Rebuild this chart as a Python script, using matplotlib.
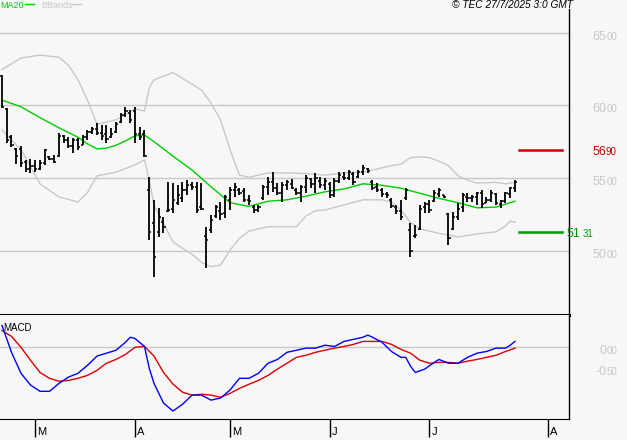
import matplotlib
matplotlib.use("Agg")
import matplotlib.pyplot as plt
import numpy as np

plt.rcParams["font.family"] = ["Liberation Sans", "DejaVu Sans"]

# ── Data ──────────────────────────────────────────────────────────────────────

# daily OHLC bars, one per trading day (index 0 = first bar)
bar_open = [
    62.00, 59.75, 57.80, 57.00, 57.00, 56.10, 55.60, 55.80, 55.60, 56.00,
    56.45, 56.30, 56.50, 57.90, 57.60, 57.20, 57.60, 57.30, 57.80, 58.15,
    58.40, 58.10, 58.00, 57.80, 58.15, 58.85, 59.30, 59.50, 59.60, 58.00,
    58.00, 54.20, 51.90, 51.30, 52.00, 52.70, 52.90, 53.30, 53.60, 54.20,
    54.50, 54.40, 53.00, 51.00, 51.40, 52.40, 52.70, 52.60, 53.50, 54.20,
    54.20, 54.10, 53.50, 53.00, 52.80, 53.60, 54.40, 54.70, 54.30, 54.00,
    54.50, 54.60, 54.20, 54.00, 54.40, 54.90, 54.60, 54.80, 54.50, 54.60,
    53.80, 54.80, 55.10, 55.00, 55.30, 55.05, 55.40, 55.60, 54.70, 54.40,
    54.20, 53.90, 53.50, 53.00, 52.70, 53.60, 51.40, 51.00, 51.50, 53.00,
    53.20, 53.40, 53.90, 53.80, 52.50, 51.50, 52.30, 53.00, 53.70, 53.60,
    53.70, 54.00, 53.30, 53.50, 53.90, 53.20, 53.40, 53.90, 54.30,
]
bar_high = [
    62.10, 59.80, 57.95, 57.05, 57.20, 56.25, 56.30, 56.25, 56.25, 57.00,
    56.50, 56.60, 58.10, 57.95, 57.80, 57.75, 57.75, 57.95, 58.30, 58.50,
    58.80, 58.65, 58.65, 58.45, 58.85, 59.45, 59.90, 59.70, 59.90, 58.50,
    58.30, 55.05, 53.50, 52.95, 52.30, 54.70, 54.65, 54.50, 54.70, 54.85,
    54.70, 54.70, 54.65, 51.65, 52.45, 53.15, 53.35, 53.85, 54.40, 54.65,
    54.30, 54.30, 53.85, 53.15, 53.15, 54.50, 55.05, 55.40, 54.65, 54.70,
    54.85, 54.95, 54.30, 54.50, 55.20, 55.00, 55.35, 55.05, 55.00, 54.70,
    55.00, 55.40, 55.40, 55.55, 55.40, 55.55, 55.90, 55.70, 54.85, 54.65,
    54.30, 54.05, 53.60, 53.15, 53.50, 54.30, 51.90, 51.75, 53.15, 53.35,
    53.50, 54.15, 54.30, 53.85, 52.60, 52.65, 53.30, 53.95, 53.95, 53.85,
    54.05, 54.15, 53.70, 54.15, 53.95, 53.50, 54.05, 54.40, 54.85,
]
bar_low = [
    59.80, 57.40, 57.15, 55.95, 55.75, 55.40, 55.35, 55.40, 55.55, 55.90,
    56.25, 56.05, 56.45, 57.40, 57.05, 56.70, 56.95, 57.25, 57.60, 58.05,
    57.95, 57.60, 57.40, 57.75, 58.10, 58.80, 59.20, 58.80, 57.40, 57.60,
    56.45, 50.75, 48.20, 50.95, 51.20, 52.65, 52.60, 53.15, 53.35, 53.85,
    54.15, 52.60, 52.80, 48.80, 51.20, 52.25, 52.10, 52.25, 52.80, 53.70,
    53.85, 53.35, 53.15, 52.60, 52.65, 53.50, 53.85, 54.05, 53.85, 53.35,
    54.15, 54.25, 53.85, 53.35, 53.95, 54.30, 53.95, 54.30, 54.15, 53.60,
    53.70, 54.65, 54.85, 54.85, 54.50, 55.00, 55.20, 55.35, 54.15, 54.05,
    53.70, 53.60, 52.95, 52.50, 52.10, 53.50, 49.55, 50.85, 51.40, 52.60,
    52.60, 53.35, 53.70, 53.60, 50.40, 51.40, 52.10, 52.65, 53.35, 53.35,
    53.15, 52.95, 53.30, 53.35, 53.15, 52.95, 53.30, 53.60, 54.05,
]
bar_close = [
    59.85, 57.60, 57.25, 56.50, 56.00, 55.60, 55.80, 55.60, 56.00, 56.90,
    56.30, 56.10, 57.90, 57.60, 57.20, 57.60, 57.10, 57.85, 58.15, 58.40,
    58.10, 57.90, 57.70, 58.00, 58.70, 59.30, 59.60, 59.00, 58.00, 57.80,
    56.50, 51.30, 49.55, 52.30, 51.60, 52.80, 53.50, 53.80, 54.20, 54.50,
    54.40, 52.80, 52.90, 50.75, 52.10, 53.00, 52.50, 53.70, 54.20, 54.40,
    54.00, 53.50, 53.40, 52.80, 53.00, 54.40, 54.70, 54.30, 54.00, 54.50,
    54.70, 54.30, 54.00, 54.40, 55.00, 54.60, 55.00, 54.50, 54.80, 53.80,
    54.80, 55.20, 55.00, 55.40, 54.70, 55.40, 55.70, 55.45, 54.30, 54.20,
    53.90, 53.80, 53.10, 52.70, 52.30, 54.20, 50.00, 51.10, 52.90, 53.20,
    52.80, 54.00, 54.20, 53.70, 50.90, 52.30, 52.90, 53.80, 53.60, 53.70,
    54.00, 53.20, 53.50, 54.00, 53.30, 53.40, 53.95, 54.30, 54.70,
]

# 20-day moving average, sampled at bar indices
ma_idx = [0, 4, 8, 12, 16, 18, 20, 22, 24, 26, 28, 30, 32, 36, 40, 44, 48, 52,
          56, 60, 64, 68, 72, 76, 80, 84, 88, 92, 96, 100, 104, 108]
ma20 = [60.35, 59.90, 59.15, 58.45, 57.80, 57.35, 57.00, 57.05, 57.25, 57.55,
        57.90, 57.95, 57.50, 56.50, 55.55, 54.40, 53.30, 53.05, 53.40, 53.50,
        53.75, 54.05, 54.25, 54.60, 54.50, 54.30, 53.95, 53.60, 53.30, 52.95,
        53.00, 53.40]

# Bollinger bands
bb_up_idx = [0, 4, 8, 12, 14, 16, 18, 20, 24, 28, 30, 31, 32, 36, 40, 42, 44,
             46, 48, 50, 52, 56, 60, 64, 68, 72, 76, 80, 82, 84, 86, 88, 90,
             92, 94, 96, 98, 100, 104, 106, 108]
bb_upper = [62.45, 63.25, 63.45, 63.30, 62.75, 61.75, 60.35, 58.70, 59.00, 59.75,
            59.60, 61.20, 61.75, 62.25, 61.45, 61.05, 60.15, 59.00, 56.95, 55.20,
            55.05, 55.35, 55.35, 55.30, 55.20, 55.35, 55.40, 55.70, 55.85, 55.95,
            56.40, 56.45, 56.40, 56.15, 55.85, 55.15, 54.85, 54.65, 54.70, 54.60,
            54.70]
bb_lo_idx = [0, 4, 8, 12, 16, 18, 20, 24, 28, 30, 31, 32, 36, 40, 42, 44, 46,
             48, 50, 52, 56, 60, 62, 64, 66, 68, 72, 76, 80, 82, 84, 86, 88, 92,
             96, 100, 104, 106, 107, 108]
bb_lower = [58.30, 56.95, 54.60, 53.70, 53.35, 54.00, 55.15, 55.40, 55.90, 56.25,
            54.85, 53.15, 50.60, 49.75, 49.20, 48.90, 49.00, 50.05, 50.85, 51.35,
            51.65, 51.65, 51.65, 52.40, 52.75, 52.80, 53.15, 53.50, 53.50, 53.35,
            52.80, 51.95, 51.50, 51.20, 50.95, 51.15, 51.30, 51.70, 52.05, 51.95]

# MACD and signal line
macd_idx = [0, 2, 4, 6, 8, 10, 12, 14, 16, 18, 20, 22, 24, 26, 27, 28, 30, 31,
            32, 34, 36, 38, 40, 42, 44, 46, 48, 50, 52, 54, 56, 58, 60, 62, 64,
            66, 68, 70, 72, 74, 76, 77, 78, 80, 82, 84, 85, 86, 87, 89, 91, 92,
            94, 96, 98, 100, 102, 104, 106, 107, 108]
macd_line = [0.52, -0.12, -0.62, -0.90, -1.05, -1.05, -0.86, -0.71, -0.62, -0.43,
             -0.21, -0.14, -0.07, 0.12, 0.24, 0.21, 0.02, -0.50, -0.86, -1.33,
             -1.52, -1.36, -1.14, -1.14, -1.26, -1.21, -1.02, -0.74, -0.74, -0.62,
             -0.38, -0.29, -0.12, -0.07, -0.02, -0.02, 0.05, 0.02, 0.14, 0.19,
             0.24, 0.29, 0.24, 0.12, -0.10, -0.24, -0.24, -0.45, -0.60, -0.52,
             -0.36, -0.29, -0.38, -0.38, -0.24, -0.14, -0.10, -0.02, -0.02, 0.05,
             0.14]
sig_idx = [0, 2, 4, 6, 8, 10, 12, 14, 16, 18, 20, 22, 24, 26, 28, 30, 32, 34,
           36, 38, 40, 42, 44, 46, 48, 50, 52, 54, 56, 58, 60, 62, 64, 66, 68,
           70, 72, 74, 76, 80, 82, 84, 86, 88, 90, 92, 94, 96, 98, 100, 102,
           104, 106, 108]
macd_signal = [0.40, 0.26, 0.00, -0.31, -0.60, -0.74, -0.81, -0.79, -0.74, -0.67,
               -0.55, -0.38, -0.29, -0.17, 0.00, 0.02, -0.21, -0.60, -0.88, -1.07,
               -1.14, -1.12, -1.14, -1.19, -1.10, -0.98, -0.88, -0.79, -0.67, -0.52,
               -0.38, -0.24, -0.19, -0.12, -0.07, -0.02, 0.02, 0.07, 0.14, 0.14,
               0.07, -0.05, -0.14, -0.31, -0.38, -0.36, -0.36, -0.38, -0.33, -0.29,
               -0.24, -0.19, -0.10, -0.02]

price_grid = [50.0, 55.0, 60.0, 65.0]
macd_grid = [0.0, -0.5]
month_pos = [7, 28, 48, 69, 90, 115]
month_labels = ["M", "A", "M", "J", "J", "A"]
resistance = 56.90
support = 51.31

# ── Style ─────────────────────────────────────────────────────────────────────

BG = "#f7f7f7"
GRID = "#c8c8c8"
MA_GREEN = "#00cc00"
LVL_RED = "#cc0000"
LVL_GREEN = "#009900"

W, H = 627, 440
AX_RIGHT = 569


def fx(px):
    return px / W


def fy(py):
    return 1 - py / H


fig = plt.figure(figsize=(W / 100, H / 100), dpi=100, facecolor=BG)
ax = fig.add_axes([0, fy(315), fx(AX_RIGHT), (315 - 9) / H], facecolor=BG)
ax2 = fig.add_axes([0, fy(419), fx(AX_RIGHT), (419 - 315) / H], facecolor=BG)

xmin, xmax = -0.42, 119.37
for a in (ax, ax2):
    a.set_xlim(xmin, xmax)
    a.spines["top"].set_visible(False)
    a.spines["left"].set_visible(False)
    a.spines["right"].set_linewidth(1.0)
    a.set_yticks([])

# ── Price panel ───────────────────────────────────────────────────────────────
ax.set_ylim(45.58, 66.62)
ax.spines["bottom"].set_linewidth(2.2)
ax.set_xticks([])
for g in price_grid:
    ax.axhline(g, color=GRID, lw=1.0, zorder=1)

ax.plot(bb_up_idx, bb_upper, color=GRID, lw=1.0, zorder=2)
ax.plot(bb_lo_idx, bb_lower, color=GRID, lw=1.0, zorder=2)
ax.plot(ma_idx, ma20, color=MA_GREEN, lw=1.0, zorder=3)

x = np.arange(len(bar_close))
ax.vlines(x, bar_low, bar_high, color="black", lw=1.3, zorder=4)
ax.hlines(bar_open, x - 0.45, x, color="black", lw=1.1, zorder=4)
ax.hlines(bar_close, x, x + 0.45, color="black", lw=1.1, zorder=4)

ax.axhline(resistance, xmin=519 / AX_RIGHT, xmax=562 / AX_RIGHT, color=LVL_RED, lw=1.8)
ax.axhline(support, xmin=519 / AX_RIGHT, xmax=562 / AX_RIGHT, color=LVL_GREEN, lw=1.8)


def split_label(a, v, color, big_right_px, small_left_px, dy_px=0, big=9.0, small=7.0):
    big_txt, small_txt = f"{v:.2f}".split(".")
    k = 72 / 100
    a.annotate(big_txt, xy=(1, v), xycoords=("axes fraction", "data"),
               xytext=((big_right_px - AX_RIGHT) * k, (dy_px + 2.0) * k),
               textcoords="offset points", ha="right", va="top",
               fontsize=big, color=color, annotation_clip=False)
    a.annotate(small_txt, xy=(1, v), xycoords=("axes fraction", "data"),
               xytext=((small_left_px - AX_RIGHT) * k, (dy_px + 1.0) * k),
               textcoords="offset points", ha="left", va="top",
               fontsize=small, color=color, annotation_clip=False)


for g in price_grid:
    split_label(ax, g, GRID, 606, 607)
split_label(ax, resistance, LVL_RED, 606, 606, dy_px=2)
split_label(ax, support, LVL_GREEN, 580, 583, dy_px=2)

# ── MACD panel ────────────────────────────────────────────────────────────────
ax2.set_ylim(-1.71, 0.77)
ax2.axhline(0, color=GRID, lw=1.0, zorder=1)
ax2.plot(sig_idx, macd_signal, color="#dd0000", lw=1.0, zorder=3)
ax2.plot(macd_idx, macd_line, color="#0000ff", lw=1.0, zorder=3)
for g in macd_grid:
    split_label(ax2, g, GRID, 606, 607)
ax2.text(3 / AX_RIGHT, 0.92, "MACD", transform=ax2.transAxes, fontsize=7,
         ha="left", va="top", color="black")

ax2.set_xticks(month_pos)
ax2.set_xticklabels([])
ax2.tick_params(axis="x", direction="out", length=13, width=1.0, color="black")
for pos, lab in zip(month_pos, month_labels):
    ax2.annotate(lab, xy=(pos, 0), xycoords=("data", "axes fraction"),
                 xytext=(1.5, -13), textcoords="offset points",
                 ha="left", va="bottom", fontsize=8, color="black",
                 annotation_clip=False)

# ── Header ────────────────────────────────────────────────────────────────────
fig.text(fx(0), fy(0.5), "MA20", color=MA_GREEN, fontsize=6.5, ha="left", va="top")
fig.add_artist(plt.Line2D([fx(25), fx(34)], [fy(4.5), fy(4.5)], color=MA_GREEN, lw=1.0))
fig.text(fx(41), fy(0.5), "BBands", color=GRID, fontsize=6.5, ha="left", va="top")
fig.add_artist(plt.Line2D([fx(72), fx(81)], [fy(4.5), fy(4.5)], color=GRID, lw=1.0))
fig.text(fx(573), fy(0), "\u00a9 TEC 27/7/2025 3:0 GMT", color="black",
         fontsize=7.3, style="italic", ha="right", va="top")

fig.savefig("out.png", dpi=100, facecolor=BG)
